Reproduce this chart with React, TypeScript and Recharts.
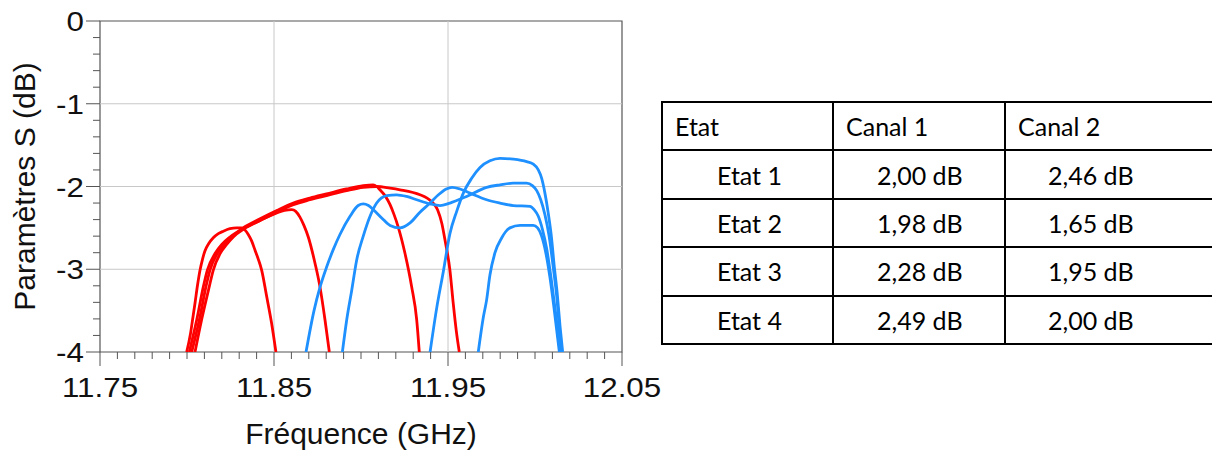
import { LineChart, Line, XAxis, YAxis, ReferenceLine, ReferenceArea } from "recharts";

type Pt = [number, number];

// axis ticks and grid
const X_MAJOR = [11.75, 11.85, 11.95, 12.05];
const X_MAJOR_LABELS = ["11.75", "11.85", "11.95", "12.05"];
const Y_MAJOR = [-4, -3, -2, -1, 0];
const Y_MAJOR_LABELS = ["-4", "-3", "-2", "-1", "0"];
const X_GRID = [11.85, 11.95];
const Y_GRID = [-3, -2, -1];
// minor ticks: 0.01 GHz and 0.2 dB
const X_TICKS = Array.from({ length: 31 }, (_, i) => (1175 + i) / 100);
const Y_TICKS = Array.from({ length: 21 }, (_, i) => (-40 + 2 * i) / 10);

const X_TITLE = "Fréquence (GHz)";
const Y_TITLE = "Paramètres S (dB)";

// Canal 1 (red), [GHz, dB]
const C1_E1: Pt[] = [
  [11.8046, -4.0], [11.8084, -3.61], [11.8128, -3.21], [11.8151, -3.01], [11.819, -2.81],
  [11.8228, -2.7], [11.8266, -2.61], [11.833, -2.51], [11.842, -2.41], [11.8516, -2.31],
  [11.8611, -2.22], [11.8707, -2.16], [11.8802, -2.11], [11.8917, -2.05], [11.9013, -2.01],
  [11.909, -2.0], [11.9167, -2.02], [11.9224, -2.04], [11.9339, -2.1], [11.938, -2.14],
  [11.941, -2.19], [11.944, -2.28], [11.9465, -2.45], [11.9483, -2.65], [11.9511, -3.01],
  [11.953, -3.41], [11.9548, -3.75], [11.9565, -4.0],
];
const C1_E2: Pt[] = [
  [11.8027, -4.0], [11.8071, -3.61], [11.8109, -3.21], [11.8132, -3.01], [11.8174, -2.81],
  [11.8215, -2.7], [11.8257, -2.61], [11.8322, -2.5], [11.842, -2.39], [11.8516, -2.29],
  [11.8611, -2.2], [11.8707, -2.14], [11.8802, -2.09], [11.8917, -2.03], [11.9013, -1.99],
  [11.907, -1.98], [11.909, -2.0], [11.9109, -2.04], [11.9138, -2.11], [11.9167, -2.22],
  [11.919, -2.34], [11.9214, -2.49], [11.9253, -2.81], [11.9291, -3.21], [11.932, -3.61],
  [11.9335, -4.0],
];
const C1_E3: Pt[] = [
  [11.8013, -4.0], [11.8056, -3.61], [11.8094, -3.21], [11.8117, -3.01], [11.8161, -2.81],
  [11.82, -2.7], [11.8247, -2.61], [11.8322, -2.51], [11.842, -2.41], [11.8516, -2.32],
  [11.856, -2.29], [11.8602, -2.28], [11.8625, -2.3], [11.8649, -2.37], [11.8672, -2.47],
  [11.8697, -2.61], [11.8736, -2.93], [11.8764, -3.21], [11.8793, -3.61], [11.8818, -4.0],
];
const C1_E4: Pt[] = [
  [11.7998, -4.0], [11.802, -3.78], [11.8032, -3.61], [11.8046, -3.41], [11.806, -3.2],
  [11.8075, -3.01], [11.8089, -2.88], [11.8103, -2.78], [11.8125, -2.69], [11.8151, -2.62],
  [11.818, -2.57], [11.8209, -2.54], [11.8247, -2.51], [11.8285, -2.5], [11.8314, -2.5],
  [11.8335, -2.53], [11.8352, -2.58], [11.8372, -2.66], [11.8391, -2.77], [11.841, -2.88],
  [11.8429, -3.01], [11.8458, -3.33], [11.8486, -3.65], [11.8511, -4.0],
];

// Canal 2 (blue)
const C2_E1: Pt[] = [
  [11.9674, -4.0], [11.9703, -3.58], [11.9722, -3.37], [11.9741, -3.07], [11.977, -2.8],
  [11.9809, -2.62], [11.983, -2.55], [11.9856, -2.5], [11.9914, -2.47], [11.999, -2.47],
  [12.0015, -2.5], [12.0038, -2.6], [12.0062, -2.8], [12.0086, -3.1], [12.011, -3.48],
  [12.014, -4.0],
];
const C2_E2: Pt[] = [
  [11.9397, -4.0], [11.9435, -3.47], [11.9473, -3.03], [11.9511, -2.57], [11.955, -2.3],
  [11.9588, -2.08], [11.9636, -1.9], [11.9684, -1.77], [11.9741, -1.69], [11.9799, -1.66],
  [11.9875, -1.67], [11.9952, -1.7], [11.999, -1.73], [12.0019, -1.8], [12.0038, -1.9],
  [12.0057, -2.08], [12.0076, -2.32], [12.0095, -2.62], [12.011, -2.95], [12.0128, -3.3],
  [12.0144, -3.69], [12.0159, -4.0],
];
const C2_E3: Pt[] = [
  [11.8893, -4.0], [11.8918, -3.61], [11.8947, -3.25], [11.8975, -2.89], [11.9013, -2.6],
  [11.9052, -2.36], [11.909, -2.2], [11.9148, -2.11], [11.9205, -2.1], [11.9262, -2.12],
  [11.932, -2.16], [11.9397, -2.21], [11.9454, -2.23], [11.9511, -2.2], [11.9607, -2.12],
  [11.9722, -2.01], [11.9799, -1.98], [11.9875, -1.96], [11.9952, -1.96], [11.9985, -1.99],
  [12.001, -2.05], [12.0033, -2.16], [12.0057, -2.34], [12.0081, -2.6], [12.0105, -2.98],
  [12.0128, -3.4], [12.0149, -4.0],
];
const C2_E4: Pt[] = [
  [11.8684, -4.0], [11.873, -3.5], [11.8764, -3.22], [11.8803, -2.97], [11.8841, -2.76],
  [11.8879, -2.58], [11.8937, -2.36], [11.8984, -2.23], [11.9013, -2.21], [11.9043, -2.23],
  [11.9071, -2.28], [11.9119, -2.38], [11.9167, -2.47], [11.9224, -2.5], [11.9282, -2.44],
  [11.9339, -2.31], [11.9397, -2.2], [11.9445, -2.1], [11.949, -2.03], [11.9523, -2.01],
  [11.9569, -2.03], [11.9626, -2.08], [11.9722, -2.16], [11.9799, -2.2], [11.9875, -2.23],
  [11.9971, -2.24], [11.9995, -2.28], [12.0019, -2.36], [12.0043, -2.52], [12.0067, -2.75],
  [12.0092, -3.1], [12.0118, -3.52], [12.0144, -4.0],
];

// table
const TABLE_HEAD = ["Etat", "Canal 1", "Canal 2"];
const ETATS = ["Etat 1", "Etat 2", "Etat 3", "Etat 4"];
const CANAL_1 = ["2,00 dB", "1,98 dB", "2,28 dB", "2,49 dB"];
const CANAL_2 = ["2,46 dB", "1,65 dB", "1,95 dB", "2,00 dB"];

const RED = "#ff0000";
const BLUE = "#1e90ff";
const AXIS = "#555555";
const GRID = "#c8c8c8";
const INK = "#111111";
const FONT = "'Liberation Sans', Arial, sans-serif";

const toData = (pts: Pt[]) => pts.map(([f, db]) => ({ f, db }));

const SERIES = [
  { key: "c1e1", pts: C1_E1, color: RED },
  { key: "c1e2", pts: C1_E2, color: RED },
  { key: "c1e3", pts: C1_E3, color: RED },
  { key: "c1e4", pts: C1_E4, color: RED },
  { key: "c2e1", pts: C2_E1, color: BLUE },
  { key: "c2e2", pts: C2_E2, color: BLUE },
  { key: "c2e3", pts: C2_E3, color: BLUE },
  { key: "c2e4", pts: C2_E4, color: BLUE },
];

function XTick({ x, y, payload }: any) {
  const i = X_MAJOR.indexOf(payload.value);
  const major = i >= 0;
  return (
    <g>
      <line x1={x} x2={x} y1={y} y2={y + (major ? 14 : 7)} stroke={AXIS} strokeWidth={1} />
      {major && (
        <text
          transform={`translate(${x},${y + 45}) scale(1.12,1)`}
          textAnchor="middle"
          fontSize={28}
          fontFamily={FONT}
          fill={INK}
        >
          {X_MAJOR_LABELS[i]}
        </text>
      )}
    </g>
  );
}

function YTick({ x, y, payload }: any) {
  const i = Y_MAJOR.indexOf(payload.value);
  const major = i >= 0;
  return (
    <g>
      <line x1={x - (major ? 14 : 7)} x2={x} y1={y} y2={y} stroke={AXIS} strokeWidth={1} />
      {major && (
        <text
          transform={`translate(${x - 16},${y + 10}) scale(1.12,1)`}
          textAnchor="end"
          fontSize={28}
          fontFamily={FONT}
          fill={INK}
        >
          {Y_MAJOR_LABELS[i]}
        </text>
      )}
    </g>
  );
}

function XTitle(props: any) {
  const vb = props.viewBox ?? { x: 100, y: 352, width: 522, height: 98 };
  return (
    <text
      x={vb.x + vb.width / 2}
      y={vb.y + 92}
      textAnchor="middle"
      fontSize={30}
      fontFamily={FONT}
      fill={INK}
    >
      {X_TITLE}
    </text>
  );
}

function YTitle(props: any) {
  const vb = props.viewBox ?? { x: 0, y: 21, width: 100, height: 331 };
  const cx = vb.x + 35;
  const cy = vb.y + vb.height / 2;
  return (
    <text
      x={cx}
      y={cy}
      transform={`rotate(-90 ${cx} ${cy})`}
      textAnchor="middle"
      fontSize={30}
      fontFamily={FONT}
      fill={INK}
    >
      {Y_TITLE}
    </text>
  );
}

const cellBase: React.CSSProperties = {
  border: "2px solid #000",
  padding: 0,
  verticalAlign: "middle",
  textAlign: "left",
  whiteSpace: "nowrap",
};

function LossTable() {
  const rows = ETATS.map((e, i) => [e, CANAL_1[i], CANAL_2[i]]);
  const bodyPad = [54, 43, 42];
  return (
    <table
      style={{
        position: "absolute",
        left: 661,
        top: 101,
        borderCollapse: "collapse",
        tableLayout: "fixed",
        width: 583,
        fontFamily: "Lato, 'Noto Sans', sans-serif",
        fontSize: 25,
        color: "#000",
      }}
    >
      <colgroup>
        <col style={{ width: 171 }} />
        <col style={{ width: 172 }} />
        <col style={{ width: 240 }} />
      </colgroup>
      <tbody>
        <tr style={{ height: 48.4 }}>
          {TABLE_HEAD.map((h) => (
            <td key={h} style={{ ...cellBase, paddingLeft: 12 }}>
              {h}
            </td>
          ))}
        </tr>
        {rows.map((r) => (
          <tr key={r[0]} style={{ height: 48.4 }}>
            {r.map((c, j) => (
              <td key={j} style={{ ...cellBase, paddingLeft: bodyPad[j] }}>
                {c}
              </td>
            ))}
          </tr>
        ))}
      </tbody>
    </table>
  );
}

export default function App() {
  return (
    <div
      style={{
        position: "absolute",
        left: 0,
        top: 0,
        width: 1212,
        height: 450,
        overflow: "hidden",
        background: "#fff",
      }}
    >
      <LineChart width={665} height={450} margin={{ top: 21, right: 43, bottom: 0, left: 0 }}>
        <XAxis
          dataKey="f"
          type="number"
          domain={[11.75, 12.05]}
          ticks={X_TICKS}
          interval={0}
          allowDataOverflow
          height={98}
          tickSize={0}
          tickMargin={0}
          tickLine={false}
          axisLine={false}
          tick={XTick}
          label={{ content: XTitle }}
        />
        <YAxis
          type="number"
          domain={[-4, 0]}
          ticks={Y_TICKS}
          interval={0}
          allowDataOverflow
          width={100}
          tickSize={0}
          tickMargin={0}
          tickLine={false}
          axisLine={false}
          tick={YTick}
          label={{ content: YTitle }}
        />
        {X_GRID.map((v) => (
          <ReferenceLine key={`gx${v}`} x={v} stroke={GRID} strokeWidth={1} />
        ))}
        {Y_GRID.map((v) => (
          <ReferenceLine key={`gy${v}`} y={v} stroke={GRID} strokeWidth={1} />
        ))}
        <ReferenceArea
          x1={11.75}
          x2={12.05}
          y1={-4}
          y2={0}
          fill="none"
          fillOpacity={0}
          stroke={AXIS}
          strokeWidth={1.2}
        />
        {SERIES.map((s) => (
          <Line
            key={s.key}
            data={toData(s.pts)}
            dataKey="db"
            type="monotone"
            stroke={s.color}
            strokeWidth={2.8}
            dot={false}
            activeDot={false}
            isAnimationActive={false}
          />
        ))}
      </LineChart>
      <LossTable />
    </div>
  );
}
